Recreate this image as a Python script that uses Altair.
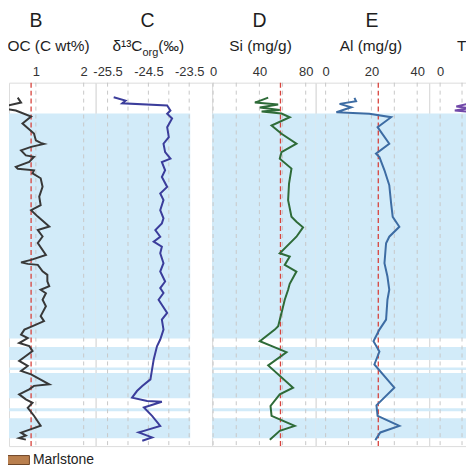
import altair as alt
import pandas as pd

FONT = "Liberation Sans"

# ---------------- data (depth: 0 = top of log, increasing downward) ----------------
BAND_TOP = [31, 265.5, 286, 291.5, 327, 337]
BAND_BOTTOM = [257, 278.5, 288.5, 317, 330, 357]

B_DEPTH = [15, 20, 23, 26, 28, 34, 41, 51, 58, 60.5, 61.5, 64.5, 68, 73, 74.5, 79.5, 84.5, 86.5, 88, 91,
           96, 104.5, 114.5, 123, 128, 134.5, 144.5, 148, 154.5, 161, 173, 178, 180.5, 182, 183, 189.5,
           193, 199.5, 204.5, 208, 211.5, 218, 224.5, 234.5, 239.5, 244.5, 248, 253, 256.5, 261.5, 264.5,
           269.5, 274.5, 279.5, 284.5, 289.5, 293, 303, 304.5, 308, 313, 318, 321.5, 326.5, 334.5, 344.5,
           348, 351.5, 354.5, 357, 358.5]
B_TOC = [0.62, 0.69, 0.41, 0.31, 0.58, 0.90, 0.72, 0.96, 1.00, 1.10, 1.17, 0.90, 0.69, 0.79, 0.96, 0.86,
         0.58, 0.62, 0.96, 0.93, 1.10, 1.14, 1.07, 1.10, 0.90, 1.04, 1.28, 1.04, 1.14, 1.04, 1.21, 0.90,
         0.69, 0.83, 1.04, 1.14, 1.24, 1.24, 1.28, 1.10, 1.21, 1.14, 1.21, 1.10, 1.17, 0.93, 0.76, 0.69,
         0.83, 0.65, 0.86, 0.93, 0.79, 0.65, 0.83, 0.69, 0.90, 1.28, 0.96, 0.86, 0.65, 0.79, 0.93, 0.83,
         0.96, 1.10, 0.90, 0.69, 0.79, 0.65, 0.79]

C_DEPTH = [14.7, 18, 20.7, 23, 28, 31.3, 36, 44.7, 54.7, 61.3, 69.7, 76.3, 79.7, 88, 94.7, 104.7, 111.3,
           118, 128, 136.3, 141.3, 148, 154.7, 159.7, 164.7, 171.3, 181.3, 189.7, 199.7, 206.3, 211.3, 218,
           231.3, 238, 248, 258, 264.7, 278, 288, 298, 304.7, 309.7, 316.3, 319.7, 320.5, 326.3, 334.7,
           344.7, 349.7, 351.3, 356.3, 359.7]
C_D13C = [-25.35, -25.06, -25.14, -24.04, -23.96, -24.04, -23.92, -24.04, -24.00, -24.13, -24.09, -23.96,
          -24.17, -24.09, -24.17, -24.04, -24.21, -24.13, -24.21, -24.13, -24.17, -24.33, -24.21, -24.37,
          -24.17, -24.21, -24.13, -24.21, -24.09, -24.21, -24.13, -24.25, -24.04, -24.17, -24.13, -24.21,
          -24.29, -24.37, -24.41, -24.45, -24.65, -24.78, -24.90, -24.53, -24.17, -24.61, -24.41, -24.21,
          -24.61, -24.74, -24.41, -24.65]

D_DEPTH = [15, 20, 22, 25, 27.5, 29, 31, 34.7, 43, 51.3, 61.3, 69.7, 76.3, 86.3, 101.3, 118, 134.7, 139.7,
           145.3, 154.7, 171.3, 174.7, 183, 189.7, 202, 208, 218, 231.3, 244.7, 248, 259.7, 270.7, 284,
           306.3, 313, 324.7, 334.7, 344.7, 349.7, 358.7]
D_SI = [47.6, 36.1, 56.2, 40.4, 57.6, 41.9, 59.1, 66.2, 50.5, 59.1, 72.0, 59.1, 57.6, 67.7, 65.6, 64.8,
        67.7, 72.0, 77.7, 72.0, 57.6, 66.2, 61.9, 72.0, 66.2, 64.8, 61.9, 59.1, 56.2, 53.3, 40.4, 63.4,
        47.6, 69.1, 57.6, 49.6, 50.5, 70.5, 57.6, 49.0]

E_DEPTH = [15.3, 18.7, 21.3, 24.7, 29.7, 31.3, 34.7, 44.7, 61.3, 71.3, 74.7, 88, 103, 121.3, 134.7, 144.7,
           154.7, 161.3, 181.3, 194.7, 208, 218, 238, 248, 259.7, 270, 283, 306.3, 324, 334.7, 344.7,
           351.3, 359]
E_AL = [12.6, 13.3, 6.1, 11.2, 4.7, 19.1, 28.6, 22.7, 27.8, 22.0, 23.5, 25.7, 27.8, 28.6, 29.3, 32.2,
        27.8, 26.4, 25.7, 27.0, 27.8, 27.0, 26.4, 23.5, 20.9, 23.5, 21.3, 30.0, 22.2, 22.7, 32.2, 23.9, 21.7]

TI_DEPTH = [20.7, 24, 25.7, 28, 29.7, 31.5]
TI_VAL = [1.35, 0.74, 1.35, 0.67, 1.5, 2.1]

B_TICKS, B_GRID, B_REF = [1, 2], [1, 2], 0.90
C_TICKS, C_GRID = [-25.5, -24.5, -23.5], [-25.5, -25, -24.5, -24, -23.5]
D_TICKS, D_GRID, D_REF = [0, 40, 80], [0, 20, 40, 60, 80], 58.2
E_TICKS, E_GRID, E_REF = [0, 20, 40], [0, 10, 20, 30, 40], 23.0
TI_TICKS, TI_GRID = [0], [0, 1, 2]

LITHOLOGY = ["Marlstone"]

# ---------------- style ----------------
H = 365
DEPTH_DOMAIN = [0, 365]
BAND = "#d2ebf9"
GRIDC = "#c8c8c8"
RED = "#d8433c"
TXT = "#1e1e1e"


def text(t, x, y, size, align="center", color=TXT):
    return alt.Chart(pd.DataFrame({"t": [t]})).mark_text(
        align=align, baseline="alphabetic", fontSize=size, font=FONT, color=color
    ).encode(text="t:N", x=alt.value(x), y=alt.value(y))


def anchor(x, y):
    # invisible 1px frame anchor used to fix the view bounds (crop like the reference)
    return alt.Chart(pd.DataFrame({"a": [0]})).mark_rect(opacity=0).encode(
        x=alt.value(x), x2=alt.value(x + 1), y=alt.value(y), y2=alt.value(y + 1))


def panel(width, domain, ticks, grid, depth, vals, color, ref=None, band_w=None, texts=(), extra=()):
    xenc = alt.X("v:Q", scale=alt.Scale(domain=domain, nice=False, zero=False),
                 axis=alt.Axis(orient="top", values=ticks, labelExpr="toString(datum.value)", title=None,
                               domain=False, ticks=False, tickSize=0, grid=False, labelPadding=7,
                               labelBaseline="alphabetic", labelFlush=False, labelOverlap=False,
                               labelFontSize=13, labelColor="#333", labelFont=FONT))
    yscale = alt.Scale(domain=DEPTH_DOMAIN, nice=False, zero=False, reverse=True)
    bands = alt.Chart(pd.DataFrame({"top": BAND_TOP, "bot": BAND_BOTTOM})).mark_rect(color=BAND).encode(
        x=alt.value(0), x2=alt.value(band_w if band_w is not None else width),
        y=alt.Y("top:Q", scale=yscale, axis=None), y2="bot:Q")
    gridl = alt.Chart(pd.DataFrame({"v": grid})).mark_rule(
        color=GRIDC, strokeDash=[4, 4], strokeWidth=1).encode(x=xenc)
    layers = [bands, gridl]
    if ref is not None:
        layers.append(alt.Chart(pd.DataFrame({"v": [ref]})).mark_rule(
            color=RED, strokeDash=[5, 3], strokeWidth=1.3).encode(x=xenc))
    layers.append(alt.Chart(pd.DataFrame({"d": depth, "v": vals})).mark_line(
        color=color, strokeWidth=2, clip=True).encode(
        x=xenc, y=alt.Y("d:Q", scale=yscale, axis=None), order="d:Q"))
    for t in texts:
        layers.append(text(*t))
    layers.extend(extra)
    return alt.layer(*layers).properties(width=width, height=H)


legend_layer = alt.Chart(pd.DataFrame({"lith": LITHOLOGY})).mark_rect().encode(
    x=alt.value(0), x2=alt.value(0), y=alt.value(0), y2=alt.value(0),
    color=alt.Color("lith:N", scale=alt.Scale(domain=LITHOLOGY, range=["#b97f4e"]),
                    legend=alt.Legend(title=None, orient="none", legendX=-5, legendY=366,
                                      symbolType="M-1,-0.36H1V0.36H-1Z", symbolSize=625,
                                      symbolStrokeColor="#6e4526", symbolStrokeWidth=1,
                                      labelFontSize=14, labelFont=FONT, labelColor="#222",
                                      labelOffset=3, padding=0)))

LET_Y, LET_S = -56, 19.5

pB = panel(87, [0.4375, 2.25], B_TICKS, B_GRID, B_DEPTH, B_TOC, "#383838", ref=B_REF,
           texts=[("B", 27, LET_Y, LET_S), ("TOC (C wt%)", 81, -32, 15.5, "right")],
           extra=[legend_layer, anchor(-30, -100), anchor(0, 400)])
pC = panel(117, [-25.793, -22.939], C_TICKS, C_GRID, C_DEPTH, C_D13C, "#3b3d9b", band_w=95,
           texts=[("C", 52, LET_Y, LET_S), ("δ¹³C", 47, -32, 15.5, "right"), ("org", 47, -27, 11, "left"),
                  ("(‰)", 63, -32, 15.5, "left")])
pD = panel(104, [-0.86, 88.6], D_TICKS, D_GRID, D_DEPTH, D_SI, "#2e6b38", ref=D_REF,
           texts=[("D", 47.5, LET_Y, LET_S), ("Si (mg/g)", 48.6, -32, 15.5)])
pE = panel(114, [-4.348, 45.217], E_TICKS, E_GRID, E_DEPTH, E_AL, "#3d6ca3", ref=E_REF,
           texts=[("E", 56.5, LET_Y, LET_S), ("Al (mg/g)", 55.5, -32, 15.5)])
pT = panel(60, [-0.5, 2.227], TI_TICKS, TI_GRID, TI_DEPTH, TI_VAL, "#7149a9",
           texts=[("Ti (mg/g)", 28, -32, 15.5, "left")], extra=[anchor(100, 0)])

chart = alt.hconcat(pB, pC, pD, pE, pT, spacing=0, bounds="flush").properties(
    padding={"left": -30, "top": -27, "right": -65, "bottom": -16}
).configure_view(stroke=None).configure(font=FONT)

chart.save("out.html", embed_options={"renderer": "svg", "actions": False})
